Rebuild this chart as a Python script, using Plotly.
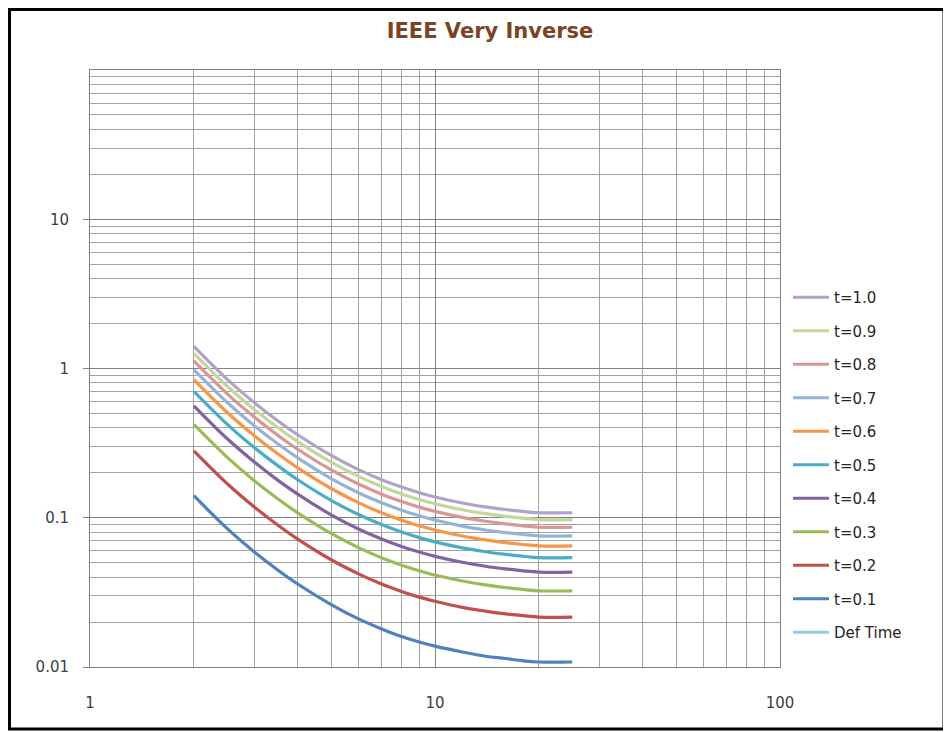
import plotly.graph_objects as go

# multiple of pickup current (M)
multiple = [2, 2.5, 3, 3.5, 4, 5, 6, 7, 8, 9, 10, 12, 14, 16, 18, 20, 25]

# operating time (s) per time dial
t_10 = [1.406, 0.8452, 0.5885, 0.4468, 0.3597, 0.2616, 0.2103, 0.1799, 0.1605, 0.1472, 0.1378, 0.1256, 0.1183, 0.1136, 0.1103, 0.1080, 0.1080]
t_09 = [1.265, 0.7607, 0.5296, 0.4021, 0.3237, 0.2355, 0.1892, 0.1619, 0.1444, 0.1325, 0.1240, 0.1131, 0.1065, 0.1022, 0.0993, 0.0972, 0.0972]
t_08 = [1.124, 0.6762, 0.4708, 0.3575, 0.2877, 0.2093, 0.1682, 0.1439, 0.1284, 0.1178, 0.1103, 0.1005, 0.0947, 0.0909, 0.0883, 0.0864, 0.0864]
t_07 = [0.9839, 0.5917, 0.4119, 0.3128, 0.2518, 0.1831, 0.1472, 0.1259, 0.1123, 0.1031, 0.0965, 0.0879, 0.0828, 0.0795, 0.0772, 0.0756, 0.0756]
t_06 = [0.8433, 0.5071, 0.3531, 0.2681, 0.2158, 0.1570, 0.1262, 0.1079, 0.0963, 0.0883, 0.0827, 0.0754, 0.0710, 0.0681, 0.0662, 0.0648, 0.0648]
t_05 = [0.7028, 0.4226, 0.2942, 0.2234, 0.1798, 0.1308, 0.1051, 0.0900, 0.0802, 0.0736, 0.0689, 0.0628, 0.0592, 0.0568, 0.0552, 0.0540, 0.0540]
t_04 = [0.5622, 0.3381, 0.2354, 0.1787, 0.1439, 0.1046, 0.0841, 0.0720, 0.0642, 0.0589, 0.0551, 0.0503, 0.0473, 0.0454, 0.0441, 0.0432, 0.0432]
t_03 = [0.4217, 0.2536, 0.1765, 0.1340, 0.1079, 0.0785, 0.0631, 0.0540, 0.0481, 0.0442, 0.0413, 0.0377, 0.0355, 0.0341, 0.0331, 0.0324, 0.0324]
t_02 = [0.2811, 0.1691, 0.1177, 0.0894, 0.0719, 0.0523, 0.0421, 0.0360, 0.0321, 0.0294, 0.0276, 0.0251, 0.0237, 0.0227, 0.0221, 0.0216, 0.0216]
t_01 = [0.1406, 0.0845, 0.0588, 0.0447, 0.0360, 0.0262, 0.0210, 0.0180, 0.0160, 0.0147, 0.0138, 0.0126, 0.0118, 0.0114, 0.0110, 0.0108, 0.0108]

series_names = ["t=1.0", "t=0.9", "t=0.8", "t=0.7", "t=0.6", "t=0.5", "t=0.4", "t=0.3", "t=0.2", "t=0.1"]
series_values = [t_10, t_09, t_08, t_07, t_06, t_05, t_04, t_03, t_02, t_01]
colors = ["#B3A2C7", "#C3D69B", "#D99694", "#95B3D7", "#F79646",
          "#4BACC6", "#8064A2", "#9BBB59", "#C0504D", "#4F81BD"]
def_time_color = "#93CDDD"

x_ticks = [1, 10, 100]
y_ticks = [0.01, 0.1, 1, 10]
y_tick_text = ["0.01", "0.1", "1", "10"]
x_minor = [m * 10 ** e for e in range(0, 2) for m in range(2, 10)]
y_minor = [m * 10 ** e for e in range(-2, 2) for m in range(2, 10)]

# page body has an 8px margin, so the figure is laid out in its own pixels
OFF = 8
W, H = 938, 723
L, R, T, B = 90 - OFF, 780 - OFF, 70 - OFF, 667 - OFF  # plot area


def px_x(p):
    return (p - L) / (R - L)


def px_y(p):
    return (B - p) / (B - T)


fig = go.Figure()
for i, (name, vals, col) in enumerate(zip(series_names, series_values, colors)):
    fig.add_trace(go.Scatter(
        x=multiple, y=vals, name=name, mode="lines",
        line=dict(color=col, width=3.2, shape="spline", smoothing=1.0),
        legendgroup=name, legendrank=i + 1,
    ))
fig.add_trace(go.Scatter(
    x=[None], y=[None], name="Def Time", mode="lines",
    line=dict(color=def_time_color, width=3),
    legendgroup="def", legendrank=20,
))

grid_major = "#808080"
grid_minor = "#a3a3a3"
font_family = "DejaVu Sans, Verdana, sans-serif"
tick_font = dict(family=font_family, size=15, color="#404040")

fig.update_xaxes(
    type="log", range=[0, 2],
    tickvals=x_ticks, ticktext=[str(v) for v in x_ticks],
    showgrid=True, gridcolor=grid_major, gridwidth=1,
    minor=dict(tickvals=x_minor, showgrid=True, gridcolor=grid_minor, gridwidth=1),
    showline=True, linecolor=grid_major, linewidth=1, mirror=True,
    ticks="", tickfont=tick_font, ticklabelstandoff=22,
    zeroline=False,
)
fig.update_yaxes(
    type="log", range=[-2, 2],
    tickvals=y_ticks, ticktext=y_tick_text,
    showgrid=True, gridcolor=grid_major, gridwidth=1,
    minor=dict(tickvals=y_minor, showgrid=True, gridcolor=grid_minor, gridwidth=1),
    showline=True, linecolor=grid_major, linewidth=1, mirror=True,
    ticks="outside", ticklen=6, tickcolor=grid_major, tickfont=tick_font,
    ticklabelstandoff=11,
    zeroline=False,
)

fig.update_layout(
    width=W, height=H,
    margin=dict(l=L, r=W - R, t=T, b=H - B),
    paper_bgcolor="white", plot_bgcolor="white",
    title=dict(
        text="<b>IEEE Very Inverse</b>",
        x=(490 - OFF) / W, xanchor="center", y=1 - (31 - OFF) / H, yanchor="middle",
        font=dict(family=font_family, size=21, color="#7A4424"),
    ),
    legend=dict(
        x=px_x(788 - OFF), xanchor="left", y=px_y(281 - OFF), yanchor="top",
        font=dict(family=font_family, size=15, color="#262626"),
        traceorder="grouped", tracegroupgap=11,
        itemwidth=36, bgcolor="rgba(0,0,0,0)",
    ),
    shapes=[dict(
        type="rect", xref="paper", yref="paper",
        x0=px_x(1.5), x1=px_x(944 - OFF), y0=px_y(729 - OFF), y1=px_y(1.5),
        line=dict(color="black", width=3), fillcolor="rgba(0,0,0,0)", layer="above",
    )],
)

fig.write_html("out.html")
